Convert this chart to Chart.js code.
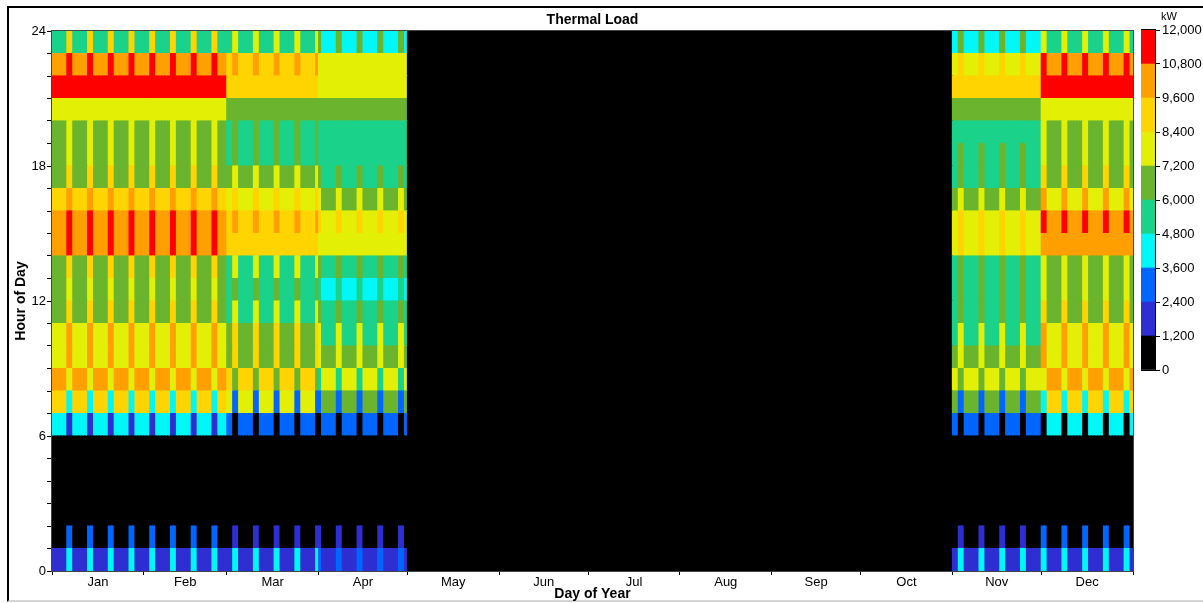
<!DOCTYPE html>
<html>
<head>
<meta charset="utf-8">
<title>Thermal Load</title>
<script src="https://cdn.jsdelivr.net/npm/chart.js@4.4.0/dist/chart.umd.min.js"></script>
<style>
  body { margin: 0; background: #fff; }
  #frame {
    position: absolute; left: 7px; top: 6px; width: 1200px; height: 596px;
    box-sizing: border-box;
    border-left: 2px solid #000; border-top: 2px solid #000; border-bottom: 2px solid #d4d4d4;
  }
  #main { position: absolute; left: 0; top: 0; }
  #scale { position: absolute; left: 1141px; top: 0; }
</style>
</head>
<body>
<div id="frame"></div>
<canvas id="main" width="1203" height="603"></canvas>
<canvas id="scale" width="62" height="380"></canvas>
<script>
// calendar
const monthNames = ['Jan', 'Feb', 'Mar', 'Apr', 'May', 'Jun', 'Jul', 'Aug', 'Sep', 'Oct', 'Nov', 'Dec'];
const monthDays = [31, 28, 31, 30, 31, 30, 31, 31, 30, 31, 30, 31];
const firstDayOfWeek = 0; // Jan 1 is a Monday, Sat/Sun = 5/6

// colour bins (kW)
const binEdges = [0, 1200, 2400, 3600, 4800, 6000, 7200, 8400, 9600, 10800, 12000];
const binColors = ['#000000', '#2e2ed2', '#0066ff', '#00f7f7', '#1bd28a',
                   '#6ab42e', '#e3ef06', '#ffd400', '#ffa000', '#ff0000'];

// hourly thermal load, kW, hour 0..23
const janFebWeekday = [1800, 0, 0, 0, 0, 0, 4200, 9000, 10200, 7800, 7800, 6600, 6600, 6600, 10200, 10200, 9000, 6600, 6600, 6600, 7800, 11400, 10200, 5400];
const janFebWeekend = [4200, 3000, 0, 0, 0, 0, 1800, 4200, 7800, 10200, 10200, 9000, 7800, 9000, 11400, 11400, 10200, 9000, 7800, 7800, 7800, 11400, 11400, 9000];
const marWeekday = [1800, 0, 0, 0, 0, 0, 3000, 7800, 9000, 6600, 6600, 5400, 5400, 5400, 9000, 9000, 7800, 6600, 5400, 5400, 6600, 9000, 9000, 5400];
const marWeekend = [4200, 1800, 0, 0, 0, 0, 0, 3000, 6600, 9000, 9000, 7800, 6600, 7800, 9000, 10200, 9000, 7800, 6600, 6600, 6600, 9000, 10200, 7800];
const aprWeekday = [1800, 0, 0, 0, 0, 0, 3000, 6600, 7800, 6600, 5400, 5400, 4200, 5400, 7800, 7800, 6600, 5400, 5400, 5400, 6600, 7800, 7800, 4200];
const aprWeekend = [3000, 1800, 0, 0, 0, 0, 0, 3000, 5400, 7800, 7800, 6600, 5400, 6600, 7800, 9000, 7800, 6600, 5400, 5400, 6600, 7800, 7800, 6600];
const novWeekday = [1800, 0, 0, 0, 0, 0, 3000, 6600, 7800, 6600, 5400, 5400, 5400, 5400, 7800, 7800, 6600, 5400, 5400, 5400, 6600, 9000, 7800, 4200];
const novWeekend = [4200, 1800, 0, 0, 0, 0, 0, 3000, 6600, 7800, 7800, 6600, 6600, 6600, 9000, 9000, 7800, 6600, 6600, 5400, 6600, 9000, 9000, 6600];
const decWeekday = [1800, 0, 0, 0, 0, 0, 4200, 9000, 10200, 7800, 7800, 6600, 6600, 6600, 10200, 10200, 7800, 6600, 6600, 6600, 7800, 11400, 10200, 5400];
const decWeekend = [4200, 3000, 0, 0, 0, 0, 0, 4200, 7800, 10200, 10200, 9000, 7800, 7800, 10200, 11400, 10200, 9000, 7800, 7800, 7800, 11400, 11400, 7800];
const plantOff = [0, 0, 0, 0, 0, 0, 0, 0, 0, 0, 0, 0, 0, 0, 0, 0, 0, 0, 0, 0, 0, 0, 0, 0];

// profile used by each month: [weekday, weekend]
const monthProfiles = [
  [janFebWeekday, janFebWeekend], [janFebWeekday, janFebWeekend],
  [marWeekday, marWeekend], [aprWeekday, aprWeekend],
  [plantOff, plantOff], [plantOff, plantOff], [plantOff, plantOff],
  [plantOff, plantOff], [plantOff, plantOff], [plantOff, plantOff],
  [novWeekday, novWeekend], [decWeekday, decWeekend]
];

// one 24h profile per day of year
const dayLoads = [];
monthDays.forEach((n, m) => {
  for (let i = 0; i < n; i++) {
    const dow = (dayLoads.length + firstDayOfWeek) % 7;
    dayLoads.push(monthProfiles[m][dow >= 5 ? 1 : 0]);
  }
});

// month boundaries and mid points for the x axis
const monthStarts = [0];
monthDays.forEach(n => monthStarts.push(monthStarts[monthStarts.length - 1] + n));
const monthMids = monthNames.map((_, i) => monthStarts[i] + monthDays[i] / 2);
const xTickValues = monthStarts.concat(monthMids).sort((a, b) => a - b);

const colorFor = v => binColors[Math.min(binColors.length - 1, Math.floor(v / 1200))];

Chart.defaults.font.family = '"Liberation Sans", Arial, sans-serif';
Chart.defaults.font.size = 13;
Chart.defaults.color = '#000';

// black plot background so the anti-aliased cell edges don't show as seams
const areaFill = {
  id: 'areaFill',
  beforeDatasetsDraw(chart) {
    const { ctx, chartArea: a } = chart;
    ctx.save();
    ctx.fillStyle = '#000';
    ctx.fillRect(a.left, a.top, a.right - a.left, a.bottom - a.top);
    ctx.restore();
  }
};

const areaBorder = {
  id: 'areaBorder',
  afterDraw(chart, args, opts) {
    const { ctx, chartArea: a } = chart;
    ctx.save();
    ctx.strokeStyle = opts.color || '#444';
    ctx.lineWidth = 1;
    ctx.strokeRect(a.left - 0.5, a.top - 0.5, a.right - a.left + 1, a.bottom - a.top + 1);
    ctx.restore();
  }
};

const hours = [];
for (let h = 0; h < 24; h++) hours.push(h);

new Chart(document.getElementById('main'), {
  type: 'bar',
  data: {
    datasets: hours.map(h => ({
      label: h + ':00',
      data: dayLoads.map((p, d) => ({ x: d + 0.5, y: [h, h + 1], load: p[h] })),
      backgroundColor: dayLoads.map(p => colorFor(p[h]))
    }))
  },
  options: {
    responsive: false,
    animation: false,
    layout: { padding: { left: 8, right: 70, top: 7, bottom: 2 } },
    datasets: { bar: { grouped: false, barPercentage: 1, categoryPercentage: 1, borderWidth: 0, inflateAmount: 0.5 } },
    plugins: {
      legend: { display: false },
      tooltip: { enabled: false },
      title: {
        display: true, text: 'Thermal Load', fullSize: false, color: '#000',
        font: { size: 14, weight: 'bold', lineHeight: 1 },
        padding: { top: 6, bottom: 4 }
      },
      areaBorder: { color: '#444' }
    },
    scales: {
      x: {
        type: 'linear', min: 0, max: 365, offset: false,
        afterBuildTicks: s => { s.ticks = xTickValues.map(v => ({ value: v })); },
        afterFit: s => { s.height = 30; },
        ticks: {
          autoSkip: false, maxRotation: 0, padding: 0,
          callback: v => {
            const i = monthMids.indexOf(v);
            return i >= 0 ? monthNames[i] : '';
          }
        },
        grid: {
          offset: false, drawOnChartArea: false, tickLength: 4,
          color: c => (c.tick && monthStarts.includes(c.tick.value)) ? '#000' : 'rgba(0,0,0,0)'
        },
        border: { display: false },
        title: {
          display: true, text: 'Day of Year', color: '#000',
          font: { size: 14, weight: 'bold', lineHeight: 1 }, padding: 0
        }
      },
      y: {
        min: 0, max: 24,
        afterBuildTicks: s => { s.ticks = hours.concat([24]).map(v => ({ value: v })); },
        afterFit: s => { s.width = 44; },
        ticks: { autoSkip: false, padding: 1, callback: v => (v % 6 === 0 ? v : '') },
        grid: { drawOnChartArea: false, tickLength: 5, color: '#000' },
        border: { display: false },
        title: {
          display: true, text: 'Hour of Day', color: '#000',
          font: { size: 14, weight: 'bold', lineHeight: 1 }, padding: { top: 6, bottom: 0 }
        }
      }
    }
  },
  plugins: [areaFill, areaBorder]
});

// colour scale on the right
const unitLabel = {
  id: 'unitLabel',
  afterDraw(chart) {
    const { ctx, chartArea: a } = chart;
    ctx.save();
    ctx.font = '11px "Liberation Sans", Arial, sans-serif';
    ctx.fillStyle = '#000';
    ctx.textBaseline = 'middle';
    ctx.fillText('kW', a.right + 6, a.top - 13);
    ctx.restore();
  }
};

new Chart(document.getElementById('scale'), {
  type: 'bar',
  data: {
    labels: [''],
    datasets: binColors.map((c, i) => ({
      label: binEdges[i] + '-' + binEdges[i + 1],
      data: [binEdges[i + 1] - binEdges[i]],
      backgroundColor: c
    }))
  },
  options: {
    responsive: false,
    animation: false,
    layout: { padding: { left: 0, right: 0, top: 30, bottom: 10 } },
    datasets: { bar: { barPercentage: 1, categoryPercentage: 1, borderWidth: 0 } },
    plugins: { legend: { display: false }, tooltip: { enabled: false }, areaBorder: { color: '#000' } },
    scales: {
      x: { stacked: true, display: false },
      y: {
        stacked: true, position: 'right', min: 0, max: 12000,
        afterBuildTicks: s => { s.ticks = binEdges.map(v => ({ value: v })); },
        afterFit: s => { s.width = 48; },
        ticks: { autoSkip: false, padding: 2, callback: v => v.toLocaleString('en-US') },
        grid: { color: '#000', tickLength: 5 },
        border: { display: false }
      }
    }
  },
  plugins: [areaBorder, unitLabel]
});
</script>
</body>
</html>
